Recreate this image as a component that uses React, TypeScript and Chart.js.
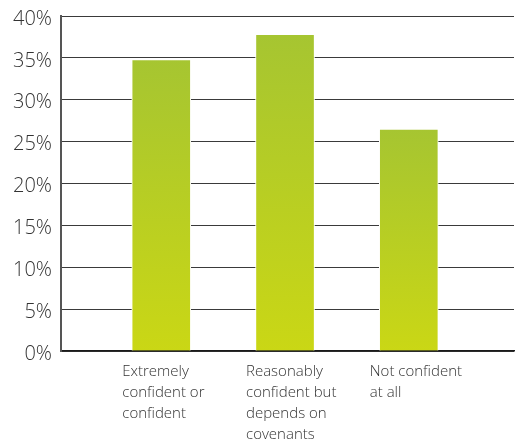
import React, { useEffect, useRef } from "react";
import { Chart, registerables } from "chart.js";

Chart.register(...registerables);

const categories: string[][] = [
  ["Extremely", "confident or", "confident"],
  ["Reasonably", "confident but", "depends on", "covenants"],
  ["Not confident", "at all"],
];
const values: number[] = [34.8, 37.8, 26.5];
const positions: number[] = [1, 2, 3];
const yTicks: number[] = [0, 5, 10, 15, 20, 25, 30, 35, 40];

export default function App() {
  const ref = useRef<HTMLCanvasElement | null>(null);

  useEffect(() => {
    document.body.style.margin = "0";
    const canvas = ref.current;
    if (!canvas) return;

    const bg = (ctx: any) => {
      const chart = ctx.chart;
      const ys = chart.scales && chart.scales.y;
      if (!chart.chartArea || !ys || ctx.raw == null) return "#b8cf24";
      const v = typeof ctx.raw === "object" ? ctx.raw.y : ctx.raw;
      const top = ys.getPixelForValue(v);
      const base = ys.getPixelForValue(0);
      const g = chart.ctx.createLinearGradient(0, top, 0, base);
      g.addColorStop(0, "#a6c531");
      g.addColorStop(1, "#cad715");
      return g;
    };

    const chart = new Chart(canvas, {
      type: "bar",
      data: {
        datasets: [
          {
            data: values.map((v, i) => ({ x: positions[i], y: v })),
            backgroundColor: bg,
            borderColor: "#ffffff",
            borderWidth: { left: 1, right: 1, top: 1, bottom: 0 },
            borderSkipped: "bottom",
            barThickness: 59,
          },
        ],
      },
      options: {
        responsive: false,
        animation: false,
        layout: { padding: { top: 16, right: 1, left: 0, bottom: 0 } },
        plugins: {
          legend: { display: false },
          tooltip: { enabled: false },
        },
        scales: {
          x: {
            type: "linear",
            offset: false,
            min: 0.19,
            max: 3.85,
            grid: { display: false, drawTicks: false },
            border: { display: true, color: "#1a1a1a", width: 1.5 },
            afterBuildTicks: (scale: any) => {
              scale.ticks = positions.map((p) => ({ value: p }));
            },
            afterFit: (scale: any) => {
              scale.height = 93;
              scale.paddingLeft = 0;
              scale.paddingRight = 0;
            },
            ticks: {
              autoSkip: false,
              maxRotation: 0,
              minRotation: 0,
              align: "start",
              labelOffset: -39,
              padding: 10,
              color: "#333333",
              font: { family: "'Open Sans'", size: 15, weight: 300, lineHeight: 1.4 },
              callback: (value: any) => {
                const idx = positions.indexOf(Number(value));
                return idx >= 0 ? categories[idx] : "";
              },
            },
          },
          y: {
            min: 0,
            max: 40,
            afterBuildTicks: (scale: any) => {
              scale.ticks = yTicks.map((t) => ({ value: t }));
            },
            afterFit: (scale: any) => {
              scale.width = 61;
              scale.paddingTop = 0;
              scale.paddingBottom = 0;
            },
            grid: { color: "#3a3a3a", lineWidth: 1, drawTicks: false },
            border: { display: true, color: "#555555", width: 2 },
            ticks: {
              padding: 9,
              labelOffset: 3,
              color: "#333333",
              font: { family: "'Open Sans'", size: 20, weight: 300 },
              callback: (v: any) => v + "%",
            },
          },
        },
      },
    } as any);

    return () => chart.destroy();
  }, []);

  return (
    <div style={{ width: 515, height: 444 }}>
      <canvas ref={ref} width={515} height={444} style={{ display: "block", width: 515, height: 444 }} />
    </div>
  );
}
